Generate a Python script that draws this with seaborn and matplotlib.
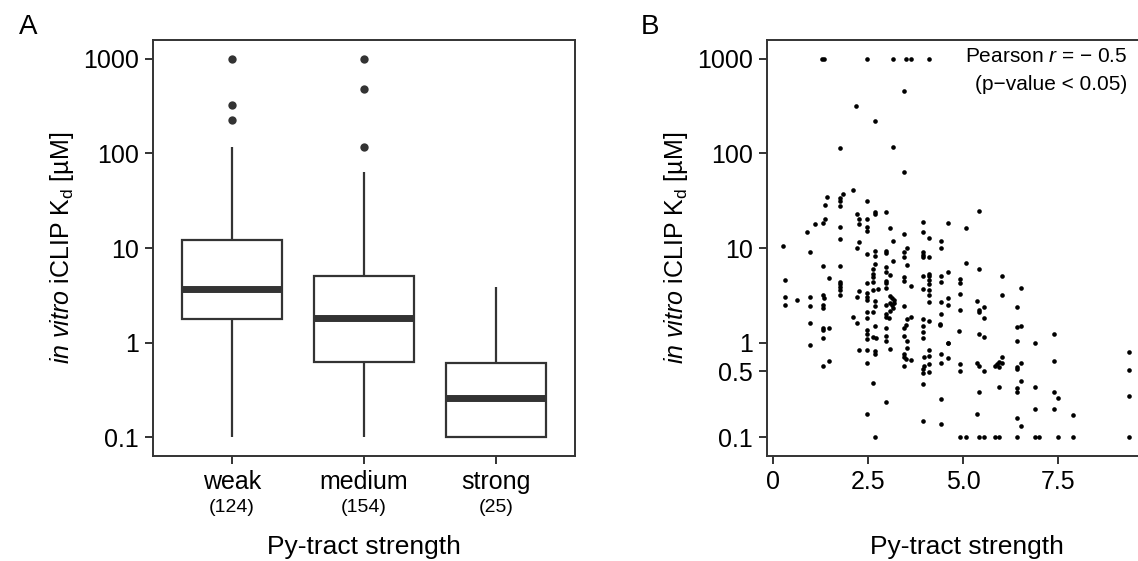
import numpy as np
import pandas as pd
import matplotlib
matplotlib.use("Agg")
import matplotlib.pyplot as plt
import matplotlib.transforms as mtransforms
from matplotlib.ticker import NullLocator, FixedLocator
import seaborn as sns

# ---------------- data ----------------
categories = ["weak", "medium", "strong"]
counts = ["(124)", "(154)", "(25)"]
box_low = [0.1, 0.1, 0.1]
box_q1 = [1.79, 0.62, 0.1]
box_median = [3.69, 1.82, 0.256]
box_q3 = [12.05, 5.09, 0.61]
box_high = [118, 64, 3.85]
outlier_group = ["weak", "weak", "weak", "medium", "medium", "medium"]
outlier_kd = [1000, 328, 225, 1000, 481, 118]

scatter_strength = [
    1.28, 1.34, 2.46, 3.15, 3.50, 3.63, 4.11,
    3.45, 2.19, 2.68, 1.75, 3.15, 3.45, 2.10, 1.42, 1.85, 1.75, 1.75, 1.75, 1.37,
    2.46, 2.22, 2.68, 2.68, 2.96, 2.25, 2.46, 1.37, 1.11, 1.31, 2.25, 1.75, 2.46,
    3.08, 3.94, 4.59, 5.42, 5.07,
    0.25, 0.32, 0.32, 0.32, 0.63, 0.88, 0.98, 0.98, 0.98, 0.98, 0.98,
    1.31, 1.31, 1.35, 1.31, 1.31, 1.31, 1.31, 1.47, 1.31, 1.31, 1.47, 1.47,
    1.75, 1.75, 1.75, 1.75, 1.75, 1.75, 1.75,
    2.10, 2.22, 2.22, 2.25, 2.25, 2.22, 2.25,
    2.46, 2.46, 2.46, 2.46, 2.46, 2.46, 2.46, 2.46, 2.46, 2.46, 2.46, 2.46, 2.46, 2.46,
    2.62, 2.62, 2.62, 2.68, 2.68, 2.68, 2.64, 2.75, 2.62, 2.68, 2.68, 2.64, 2.68,
    2.64, 2.71, 2.68, 2.68, 2.62, 2.68,
    2.96, 2.97, 3.16, 3.16, 2.96, 2.96, 3.07, 2.96, 2.96, 2.96,
    3.07, 3.12, 3.18, 3.07, 3.12, 3.19, 3.16, 3.07, 2.97, 2.97, 2.97, 3.06,
    2.96, 2.96, 2.96, 3.07, 2.96,
    3.45, 3.52, 3.45, 3.45, 3.52, 3.45, 3.45, 3.62, 3.45, 3.52, 3.62, 3.49, 3.45,
    3.45, 3.52, 3.52, 3.45, 3.45, 3.49, 3.62, 3.45,
    3.94, 4.11, 3.94, 3.94, 3.94, 4.11, 3.94, 4.11, 4.11, 4.11, 4.11, 4.11, 4.11,
    4.11, 3.94, 3.94, 4.11, 3.94, 3.94, 3.94,
    4.11, 4.11, 3.98, 4.11, 3.98, 3.94, 3.94, 4.11, 3.94, 3.94,
    4.43, 4.43, 4.43, 4.43, 4.59, 4.43, 4.59, 4.59, 4.43, 4.39, 4.40, 4.59, 4.59,
    4.43, 4.59, 4.43, 4.43, 4.43,
    5.07, 4.93, 4.93, 4.93, 4.93, 4.89, 4.93, 4.93, 4.93, 5.07,
    5.42, 5.36, 5.42, 5.42, 5.55, 5.55, 5.42, 5.55, 5.36, 5.42, 5.55, 5.42, 5.36,
    5.42, 5.55,
    6.03, 6.03, 5.83, 5.88, 5.93, 6.03, 6.03, 5.93, 5.93, 5.83, 5.93,
    6.52, 6.41, 6.41, 6.52, 6.41, 6.41, 6.41, 6.52, 6.52, 6.41, 6.41, 6.41, 6.52, 6.41,
    6.90, 6.90, 6.90, 6.90, 7.00,
    7.39, 7.39, 7.39, 7.50, 7.39, 7.50,
    7.89, 7.89,
    9.37, 9.37, 9.37, 9.37,
]
scatter_kd = [
    1000, 1000, 1000, 1000, 1000, 1000, 1000,
    462, 321, 223, 113, 116, 63, 41, 35, 37, 33.6, 31.2, 27.5, 28.3,
    31.2, 22.7, 23.9, 22.9, 23.9, 20.1, 20.1, 20.1, 17.8, 18.3, 17.8, 16.6, 16.6,
    16.2, 18.7, 18.3, 24.7, 16.4,
    10.4, 4.57, 3.03, 2.49, 2.81, 14.7, 9.0, 3.03, 2.45, 1.61, 0.94,
    6.4, 3.18, 2.95, 2.49, 2.31, 1.41, 1.35, 1.42, 1.12, 0.57, 0.64, 4.8,
    12.4, 6.4, 4.35, 4.12, 3.86, 3.56, 3.18,
    1.86, 1.61, 10.0, 11.5, 3.5, 3.03, 0.84,
    15.3, 8.6, 4.25, 3.33, 3.03, 2.79, 2.12, 1.82, 1.35, 1.24, 1.10, 0.83, 0.61, 0.176,
    6.0, 5.3, 4.9, 9.2, 8.2, 6.7, 4.35, 3.7, 3.6, 2.73, 2.44, 2.12, 1.5,
    1.15, 1.12, 0.81, 0.76, 0.37, 0.1,
    9.2, 8.9, 11.8, 7.3, 6.3, 5.6, 5.2, 4.5, 4.25, 3.77,
    3.1, 2.96, 2.8, 2.6, 2.48, 2.6, 2.33, 2.16, 2.5, 2.0, 1.87, 1.8,
    1.42, 1.17, 1.05, 0.86, 0.236,
    14.0, 10.0, 9.0, 8.0, 6.6, 4.9, 4.5, 4.0, 2.42, 1.78, 1.86, 1.53, 1.42,
    1.17, 1.05, 0.88, 0.76, 0.71, 0.67, 0.65, 0.56,
    14.7, 12.8, 9.0, 8.4, 8.0, 8.0, 5.0, 5.3, 5.0, 4.6, 4.2, 3.6, 3.2,
    2.7, 3.7, 1.79, 1.7, 1.5, 1.29, 1.13,
    0.83, 0.72, 0.70, 0.60, 0.57, 0.53, 0.48, 0.49, 0.36, 0.148,
    11.8, 10.0, 5.0, 4.35, 5.6, 2.7, 2.96, 2.49, 2.0, 1.58, 1.55, 1.0, 0.98,
    0.75, 0.68, 0.61, 0.25, 0.137,
    6.9, 4.7, 4.3, 3.3, 2.2, 1.31, 0.6, 0.5, 0.1, 0.1,
    6.0, 2.73, 2.2, 2.1, 2.36, 1.8, 1.24, 1.15, 0.61, 0.56, 0.5, 0.3, 0.176,
    0.1, 0.1,
    5.0, 3.18, 0.56, 0.59, 0.55, 0.70, 0.61, 0.63, 0.34, 0.1, 0.1,
    3.77, 2.36, 1.47, 1.5, 1.05, 0.55, 0.52, 0.61, 0.39, 0.33, 0.3, 0.16, 0.13, 0.1,
    0.99, 0.34, 0.2, 0.1, 0.1,
    1.24, 0.64, 0.3, 0.26, 0.2, 0.1,
    0.17, 0.1,
    0.79, 0.51, 0.27, 0.1,
]

ytick_vals_A = [0.1, 1, 10, 100, 1000]
ytick_labels_A = ["0.1", "1", "10", "100", "1000"]
ytick_vals_B = [0.1, 0.5, 1, 10, 100, 1000]
ytick_labels_B = ["0.1", "0.5", "1", "10", "100", "1000"]
xtick_vals_B = [0, 2.5, 5.0, 7.5]
xtick_labels_B = ["0", "2.5", "5.0", "7.5"]

# ---------------- style ----------------
sns.set_style("white")
plt.rcParams["font.family"] = ["Liberation Sans", "DejaVu Sans"]
plt.rcParams["mathtext.fontset"] = "custom"
plt.rcParams["mathtext.rm"] = "Liberation Sans"
plt.rcParams["mathtext.it"] = "Liberation Sans:italic"
plt.rcParams["mathtext.bf"] = "Liberation Sans:bold"
plt.rcParams["text.color"] = "black"
plt.rcParams["axes.labelcolor"] = "black"
plt.rcParams["xtick.color"] = "black"
plt.rcParams["ytick.color"] = "black"

FRAME = "#333333"
W, H = 1138, 561
fig = plt.figure(figsize=(W / 100, H / 100), dpi=100)
fig.patch.set_facecolor("white")

def px_axes(left, top, right, bottom):
    return fig.add_axes([left / W, 1 - bottom / H, (right - left) / W, (bottom - top) / H])

axA = px_axes(153, 40, 575, 456)
axB = px_axes(767, 40, 1146, 456)

ylabel = r"$\mathit{in\ vitro}$ iCLIP K$_\mathrm{d}$ [µM]"

# ---------------- panel A: boxplot ----------------
box_rows = []
for i, c in enumerate(categories):
    for v in (box_low[i], box_q1[i], box_median[i], box_q3[i], box_high[i]):
        box_rows.append({"group": c, "kd": v})
box_df = pd.DataFrame(box_rows)

axA.set_yscale("log")
sns.boxplot(data=box_df, x="group", y="kd", order=categories, ax=axA,
            whis=(0, 100), showfliers=False, showcaps=False, width=0.76,
            color="white", linecolor=FRAME, linewidth=1.6, saturation=1,
            medianprops={"linewidth": 5, "color": FRAME})
sns.stripplot(x=outlier_group, y=outlier_kd, order=categories, ax=axA,
              jitter=False, color=FRAME, size=6, linewidth=0)

axA.set_xlim(-0.6, 2.6)
axA.set_ylim(10 ** -1.2, 10 ** 3.2)
axA.yaxis.set_major_locator(FixedLocator(ytick_vals_A))
axA.set_yticklabels(ytick_labels_A)
axA.yaxis.set_minor_locator(NullLocator())
axA.set_xticks(range(len(categories)))
axA.set_xticklabels(categories)
trans = mtransforms.blended_transform_factory(axA.transData, axA.transAxes)
for i, c in enumerate(counts):
    axA.text(i, -0.125, c, transform=trans, ha="center", va="center", fontsize=14,
             color="black")
axA.set_xlabel("Py-tract strength", fontsize=19)
axA.xaxis.set_label_coords(0.5, -0.219)
axA.xaxis.label.set_va("center")
axA.set_ylabel(ylabel, fontsize=18)
axA.yaxis.set_label_coords(-0.216, 0.5)
axA.yaxis.label.set_va("center")

# ---------------- panel B: scatter ----------------
axB.set_yscale("log")
sns.scatterplot(x=scatter_strength, y=scatter_kd, ax=axB, color="black",
                s=11, linewidth=0)
axB.set_xlim(-0.16, 9.81)
axB.set_ylim(10 ** -1.2, 10 ** 3.2)
axB.yaxis.set_major_locator(FixedLocator(ytick_vals_B))
axB.set_yticklabels(ytick_labels_B)
axB.yaxis.set_minor_locator(NullLocator())
axB.set_xticks(xtick_vals_B)
axB.set_xticklabels(xtick_labels_B)
axB.set_xlabel("Py-tract strength", fontsize=19)
axB.xaxis.set_label_coords((967 - 767) / (1146 - 767), -0.219)
axB.xaxis.label.set_va("center")
axB.set_ylabel(ylabel, fontsize=18)
axB.yaxis.set_label_coords(-91 / (1146 - 767), 0.5)
axB.yaxis.label.set_va("center")

for ax in (axA, axB):
    for sp in ax.spines.values():
        sp.set_visible(True)
        sp.set_color(FRAME)
        sp.set_linewidth(1.4)
    ax.tick_params(axis="both", which="major", direction="out", length=6,
                   width=1.4, color=FRAME, labelsize=18, labelcolor="black",
                   bottom=True, left=True, top=False, right=False, pad=4)
    ax.grid(False)

fig.text(1127 / W, 1 - 57 / H, r"Pearson $r$ = − 0.5", ha="right", va="center",
         fontsize=15, color="black")
fig.text(1127 / W, 1 - 85 / H, "(p−value < 0.05)", ha="right", va="center",
         fontsize=15, color="black")

fig.text(19 / W, 1 - 27 / H, "A", ha="left", va="center", fontsize=20, color="black")
fig.text(641 / W, 1 - 27 / H, "B", ha="left", va="center", fontsize=20, color="black")

fig.savefig("out.png", dpi=100, facecolor="white")
